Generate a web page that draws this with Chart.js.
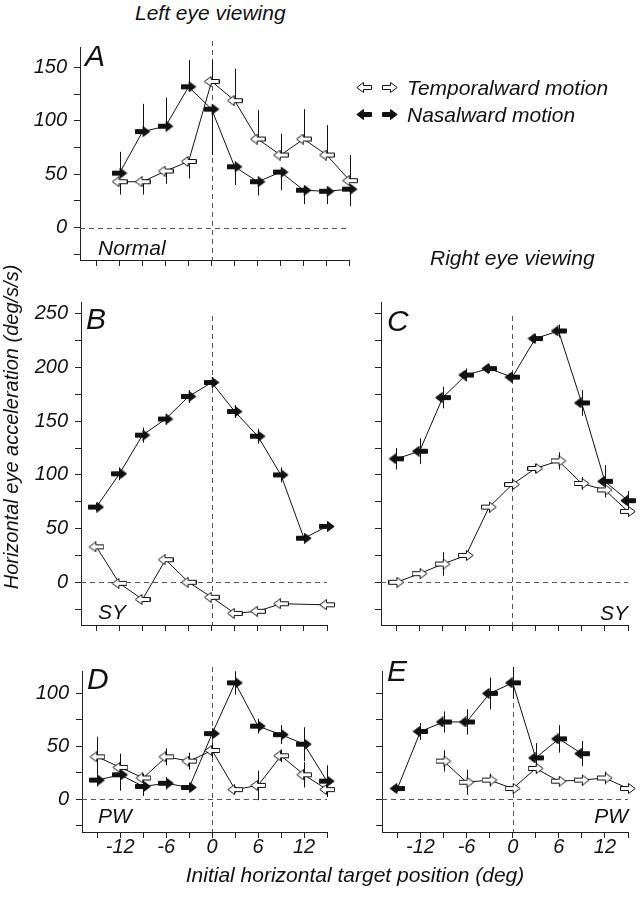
<!DOCTYPE html>
<html lang="en">
<head>
<meta charset="UTF-8" />
<title>Horizontal eye acceleration</title>
<script src="https://cdn.jsdelivr.net/npm/chart.js@4.4.1/dist/chart.umd.min.js"></script>
<style>
  body { margin: 0; background: #fff; }
  #wrap { position: relative; width: 644px; height: 899px; overflow: hidden;
          font-family: 'Liberation Sans', Arial, Helvetica, sans-serif; font-style: italic; color: #111; }
  #wrap canvas { position: absolute; }
  .t { position: absolute; font-size: 21px; line-height: 21px; white-space: nowrap; }
  .letter { position: absolute; font-size: 30px; line-height: 30px; }
</style>
</head>
<body>
<div id="wrap">
  <canvas id="panelA" width="344" height="273" style="left:20px;top:28px"></canvas>
  <canvas id="panelB" width="321" height="383" style="left:21px;top:283px"></canvas>
  <canvas id="panelC" width="322" height="383" style="left:321px;top:283px"></canvas>
  <canvas id="panelD" width="320" height="221" style="left:22px;top:652px"></canvas>
  <canvas id="panelE" width="321" height="221" style="left:322px;top:652px"></canvas>

  <canvas id="legTL" width="16" height="11" style="left:356px;top:82px"></canvas>
  <canvas id="legTR" width="16" height="11" style="left:382px;top:82px"></canvas>
  <canvas id="legNL" width="16" height="11" style="left:356px;top:109px"></canvas>
  <canvas id="legNR" width="16" height="11" style="left:382px;top:109px"></canvas>

  <div class="t" style="left:135px;top:2px">Left eye viewing</div>
  <div class="t" style="left:430px;top:247px">Right eye viewing</div>
  <div class="t" style="left:407px;top:77px">Temporalward motion</div>
  <div class="t" style="left:407px;top:104px">Nasalward motion</div>

  <div class="letter" style="left:85px;top:41px">A</div>
  <div class="letter" style="left:86px;top:304px">B</div>
  <div class="letter" style="left:387px;top:306px">C</div>
  <div class="letter" style="left:87px;top:664px">D</div>
  <div class="letter" style="left:387px;top:656px">E</div>

  <div class="t" style="left:98px;top:237px">Normal</div>
  <div class="t" style="left:98px;top:601px">SY</div>
  <div class="t" style="right:16px;top:602px">SY</div>
  <div class="t" style="left:98px;top:805px">PW</div>
  <div class="t" style="right:16px;top:805px">PW</div>

  <div class="t" style="left:355px;top:864px;transform:translateX(-50%)">Initial horizontal target position (deg)</div>
  <div class="t" style="left:-189px;top:417px;width:400px;text-align:center;font-size:20px;line-height:20px;transform:rotate(-90deg)">Horizontal eye acceleration (deg/s/s)</div>
</div>

<script>
const FONT = "'Liberation Sans', Arial, Helvetica, sans-serif";

// target positions (deg)
const posA = [-12, -9, -6, -3, 0, 3, 6, 9, 12, 15, 18];
const pos = [-15, -12, -9, -6, -3, 0, 3, 6, 9, 12, 15];

// tick positions
const xTicksA = [-15, -12, -9, -6, -3, 0, 3, 6, 9, 12, 15, 18];
const xTicks = [-15, -12, -9, -6, -3, 0, 3, 6, 9, 12, 15];
const yTicksA = [-25, 0, 25, 50, 75, 100, 125, 150];
const yTicksSY = [-25, 0, 25, 50, 75, 100, 125, 150, 175, 200, 225, 250];
const yTicksPW = [-25, 0, 25, 50, 75, 100];

// A: normal subject, left eye viewing (bars one-sided: + up, - down)
const normalNasal = [51, 90, 95, 132, 111, 57, 43, 52, 35, 34, 36];
const normalNasalErr = [20, 26, 27, 25, -43, -17, -13, -17, -13, -12, -16];
const normalTemporal = [43, 43, 53, 62, 137, 119, 83, 68, 83, 68, 44];
const normalTemporalErr = [-12, -12, -12, -16, 20, 30, 27, 20, 28, 28, 24];

// B: SY, left eye viewing
const syLeftNasal = [70, 101, 137, 152, 173, 186, 159, 136, 100, 41, 52];
const syLeftNasalErr = [4, 6, 7, 5, 6, 5, 6, 7, 7, 3, 4];
const syLeftTemporal = [33, -1, -16, 21, 0, -14, -29, -27, -20, null, -21];
const syLeftTemporalErr = [0, 0, 0, 0, 0, 0, 0, 0, 0, null, 0];

// C: SY, right eye viewing
const syRightNasal = [115, 122, 172, 193, 199, 191, 227, 234, 167, 94, 76];
const syRightNasalErr = [10, 12, 10, 6, 4, 5, 4, 6, 12, 15, 9];
const syRightTemporal = [0, 8, 17, 25, 70, 91, 106, 113, 92, 86, 66];
const syRightTemporalErr = [2, 3, 11, 3, 5, 5, 4, 8, 6, 4, 3];

// D: PW, left eye viewing
const pwLeftNasal = [18, 23, 12, 15, 11, 62, 110, 69, 61, 52, 17];
const pwLeftNasalErr = [6, 15, 9, 6, 4, 5, 11, 7, 9, 16, 15];
const pwLeftTemporal = [40, 30, 20, 40, 36, 46, 9, 13, 41, 23, 9];
const pwLeftTemporalErr = [19, 13, 4, 8, 8, 7, 3, 14, 6, 12, 5];

// E: PW, right eye viewing
const pwRightNasal = [10, 64, 73, 73, 100, 110, 39, 57, 43, null, null];
const pwRightNasalErr = [3, 8, 10, 12, 15, 15, 14, 13, 12, null, null];
const pwRightTemporal = [null, null, 36, 16, 18, 10, 29, 17, 18, 20, 10];
const pwRightTemporalErr = [null, null, 10, 12, 6, 3, 5, 3, 5, 6, 3];

// block arrow marker, dir 1 = right, -1 = left
function drawArrow(g, dir, filled) {
  g.save();
  if (dir < 0) { g.translate(16, 0); g.scale(-1, 1); }
  g.beginPath();
  g.moveTo(0.5, 3.5); g.lineTo(8.5, 3.5); g.lineTo(8.5, 0.5);
  g.lineTo(15.2, 5.5);
  g.lineTo(8.5, 10.5); g.lineTo(8.5, 7.5); g.lineTo(0.5, 7.5);
  g.closePath();
  g.fillStyle = filled ? '#111' : '#fff';
  g.fill();
  g.strokeStyle = '#111';
  g.lineWidth = 1;
  g.stroke();
  g.restore();
}
function arrow(dir, filled) {
  const c = document.createElement('canvas');
  c.width = 16; c.height = 11;
  drawArrow(c.getContext('2d'), dir, filled);
  return c;
}
const whiteLeft = arrow(-1, false), whiteRight = arrow(1, false);
const blackLeft = arrow(-1, true), blackRight = arrow(1, true);

drawArrow(document.getElementById('legTL').getContext('2d'), -1, false);
drawArrow(document.getElementById('legTR').getContext('2d'), 1, false);
drawArrow(document.getElementById('legNL').getContext('2d'), -1, true);
drawArrow(document.getElementById('legNR').getContext('2d'), 1, true);

// dashed zero lines
const refLines = {
  id: 'refLines',
  beforeDatasetsDraw(chart, args, opts) {
    const { ctx, chartArea, scales: { x, y } } = chart;
    ctx.save();
    ctx.strokeStyle = '#555';
    ctx.lineWidth = 1;
    ctx.setLineDash([5, 4]);
    const y0 = Math.round(y.getPixelForValue(0)) + 0.5;
    ctx.beginPath(); ctx.moveTo(chartArea.left, y0); ctx.lineTo(chartArea.right, y0); ctx.stroke();
    const x0 = Math.round(x.getPixelForValue(0)) + 0.5;
    ctx.beginPath(); ctx.moveTo(x0, y.getPixelForValue(opts.top)); ctx.lineTo(x0, chartArea.bottom); ctx.stroke();
    ctx.restore();
  }
};

// vertical SD bars
const errorBars = {
  id: 'errorBars',
  beforeDatasetsDraw(chart) {
    const { ctx, scales: { y } } = chart;
    ctx.save();
    ctx.strokeStyle = '#111';
    ctx.lineWidth = 1;
    chart.data.datasets.forEach((ds, i) => {
      chart.getDatasetMeta(i).data.forEach((pt, j) => {
        const v = ds.data[j].y, e = ds.data[j].e;
        if (!e) return;
        let lo = v - Math.abs(e), hi = v + Math.abs(e);
        if (ds.signedErr) { lo = e < 0 ? v + e : v; hi = e > 0 ? v + e : v; }
        const px = Math.round(pt.x) + 0.5;
        ctx.beginPath();
        ctx.moveTo(px, y.getPixelForValue(lo));
        ctx.lineTo(px, y.getPixelForValue(hi));
        ctx.stroke();
      });
    });
    ctx.restore();
  }
};

function pts(xs, ys, errs) {
  return xs.map((x, i) => ({ x: x, y: ys[i], e: errs[i] })).filter(p => p.y !== null);
}

function panel(id, o) {
  const line = { borderColor: '#111', borderWidth: 1, tension: 0, fill: false, pointRadius: 6, clip: false, signedErr: !!o.signed };
  return new Chart(document.getElementById(id), {
    type: 'line',
    data: {
      datasets: [
        Object.assign({ data: pts(o.xs, o.nasal, o.nasalErr), pointStyle: o.nasalArrow }, line),
        Object.assign({ data: pts(o.xs, o.temporal, o.temporalErr), pointStyle: o.temporalArrow }, line)
      ]
    },
    options: {
      responsive: false,
      animation: false,
      events: [],
      layout: { padding: { left: 5, right: 15, top: 15, bottom: 5 } },
      plugins: { legend: { display: false }, tooltip: { enabled: false }, refLines: { top: o.vTop } },
      scales: {
        x: {
          type: 'linear', min: o.xMin, max: o.xMax,
          afterBuildTicks: s => { s.ticks = o.xTicks.map(v => ({ value: v })); },
          afterFit: s => { s.height = 36; },
          ticks: {
            autoSkip: false, maxRotation: 0, minRotation: 0, padding: -3, color: '#111',
            font: { family: FONT, size: 20, style: 'italic' },
            callback: v => (o.xLabels && v % 6 === 0) ? String(v) : ''
          },
          grid: { drawOnChartArea: false, drawTicks: true, tickLength: 6, color: '#222' },
          border: { display: true, color: '#222', width: 1 }
        },
        y: {
          min: o.yMin, max: o.yMax,
          afterBuildTicks: s => { s.ticks = o.yTicks.map(v => ({ value: v })); },
          afterFit: s => { s.width = 55; },
          ticks: {
            autoSkip: false, padding: 7, color: '#111',
            font: { family: FONT, size: 20, style: 'italic' },
            callback: v => (o.yLabels && v % 50 === 0) ? String(v) : ''
          },
          grid: { drawOnChartArea: false, drawTicks: true, tickLength: 6, color: '#222' },
          border: { display: true, color: '#222', width: 1 }
        }
      }
    },
    plugins: [refLines, errorBars]
  });
}

panel('panelA', {
  xs: posA, nasal: normalNasal, nasalErr: normalNasalErr, temporal: normalTemporal, temporalErr: normalTemporalErr,
  nasalArrow: blackRight, temporalArrow: whiteLeft, signed: true,
  xMin: -17.15, xMax: 17.9, yMin: -30.4, yMax: 169.3, xTicks: xTicksA, yTicks: yTicksA,
  yLabels: true, xLabels: false, vTop: 175
});
panel('panelB', {
  xs: pos, nasal: syLeftNasal, nasalErr: syLeftNasalErr, temporal: syLeftTemporal, temporalErr: syLeftTemporalErr,
  nasalArrow: blackRight, temporalArrow: whiteLeft,
  xMin: -17, xMax: 15, yMin: -39.8, yMax: 261, xTicks: xTicks, yTicks: yTicksSY,
  yLabels: true, xLabels: false, vTop: 248
});
panel('panelC', {
  xs: pos, nasal: syRightNasal, nasalErr: syRightNasalErr, temporal: syRightTemporal, temporalErr: syRightTemporalErr,
  nasalArrow: blackLeft, temporalArrow: whiteRight,
  xMin: -17, xMax: 15, yMin: -39.8, yMax: 261, xTicks: xTicks, yTicks: yTicksSY,
  yLabels: false, xLabels: false, vTop: 248
});
panel('panelD', {
  xs: pos, nasal: pwLeftNasal, nasalErr: pwLeftNasalErr, temporal: pwLeftTemporal, temporalErr: pwLeftTemporalErr,
  nasalArrow: blackRight, temporalArrow: whiteLeft,
  xMin: -17, xMax: 15, yMin: -31.1, yMax: 121.2, xTicks: xTicks, yTicks: yTicksPW,
  yLabels: true, xLabels: true, vTop: 125
});
panel('panelE', {
  xs: pos, nasal: pwRightNasal, nasalErr: pwRightNasalErr, temporal: pwRightTemporal, temporalErr: pwRightTemporalErr,
  nasalArrow: blackLeft, temporalArrow: whiteRight,
  xMin: -17, xMax: 15, yMin: -31.1, yMax: 121.2, xTicks: xTicks, yTicks: yTicksPW,
  yLabels: false, xLabels: true, vTop: 125
});
</script>
</body>
</html>
